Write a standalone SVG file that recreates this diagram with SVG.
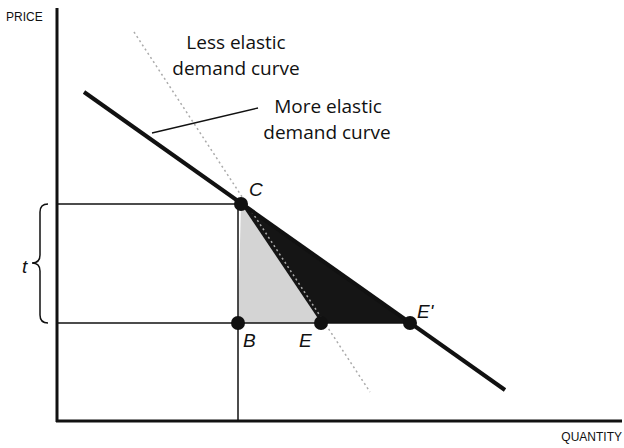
<svg xmlns="http://www.w3.org/2000/svg" width="624" height="448" viewBox="0 0 624 448">
<defs>
<style>
.lbl{font-family:"Open Sans","Liberation Sans",sans-serif;font-size:19px;fill:#111}
.ax{font-family:"Liberation Sans",sans-serif;font-size:12px;fill:#111}
.pt{font-family:"Liberation Sans",sans-serif;font-size:19px;font-style:italic;fill:#111}
.thin{stroke:#111;stroke-width:1.5;fill:none}
.dot{fill:#111}
</style>
</defs>
<rect width="624" height="448" fill="#fff"/>
<g id="axes">
<line x1="57" y1="8" x2="57" y2="422" stroke="#111" stroke-width="3"/>
<line x1="56" y1="421" x2="622" y2="421" stroke="#111" stroke-width="3"/>
<text class="ax" x="6" y="21">PRICE</text>
<text class="ax" x="622" y="441" text-anchor="end">QUANTITY</text>
</g>
<g id="areas">
<polygon points="241,204 238,323 321,323" fill="#d4d4d4"/>
<polygon points="241,204 321,323 410,323" fill="#151515"/>
</g>
<g id="connectors">
<line class="thin" x1="57" y1="204" x2="241" y2="204"/>
<line class="thin" x1="57" y1="323" x2="410" y2="323"/>
<line class="thin" x1="238" y1="204" x2="238" y2="421"/>
<line x1="134" y1="32" x2="370" y2="392" stroke="#aaa" stroke-width="1.5" stroke-dasharray="2 3"/>
<line x1="84" y1="92" x2="505" y2="390" stroke="#111" stroke-width="4"/>
<line x1="152" y1="133" x2="258" y2="108" stroke="#111" stroke-width="1.3"/>
<path d="M48,204 Q40,204 40,212 L40,255 Q40,263 32,263 Q40,263 40,271 L40,315 Q40,323 48,323" class="thin" stroke-width="1.3"/>
</g>
<g id="point-C"><circle class="dot" cx="241" cy="204" r="7"/><text class="pt" x="249" y="196">C</text></g>
<g id="point-B"><circle class="dot" cx="238" cy="323" r="7"/><text class="pt" x="243" y="347">B</text></g>
<g id="point-E"><circle class="dot" cx="321" cy="323" r="7"/><text class="pt" x="299" y="347">E</text></g>
<g id="point-E1"><circle class="dot" cx="410" cy="323" r="7"/><text class="pt" x="417" y="318">E'</text></g>
<g id="label-t"><text class="pt" x="22" y="273">t</text></g>
<g id="label-less">
<text class="lbl" x="236" y="49" text-anchor="middle">Less elastic</text>
<text class="lbl" x="236" y="75" text-anchor="middle">demand curve</text>
</g>
<g id="label-more">
<text class="lbl" x="328" y="113" text-anchor="middle">More elastic</text>
<text class="lbl" x="327" y="139" text-anchor="middle">demand curve</text>
</g>
</svg>
